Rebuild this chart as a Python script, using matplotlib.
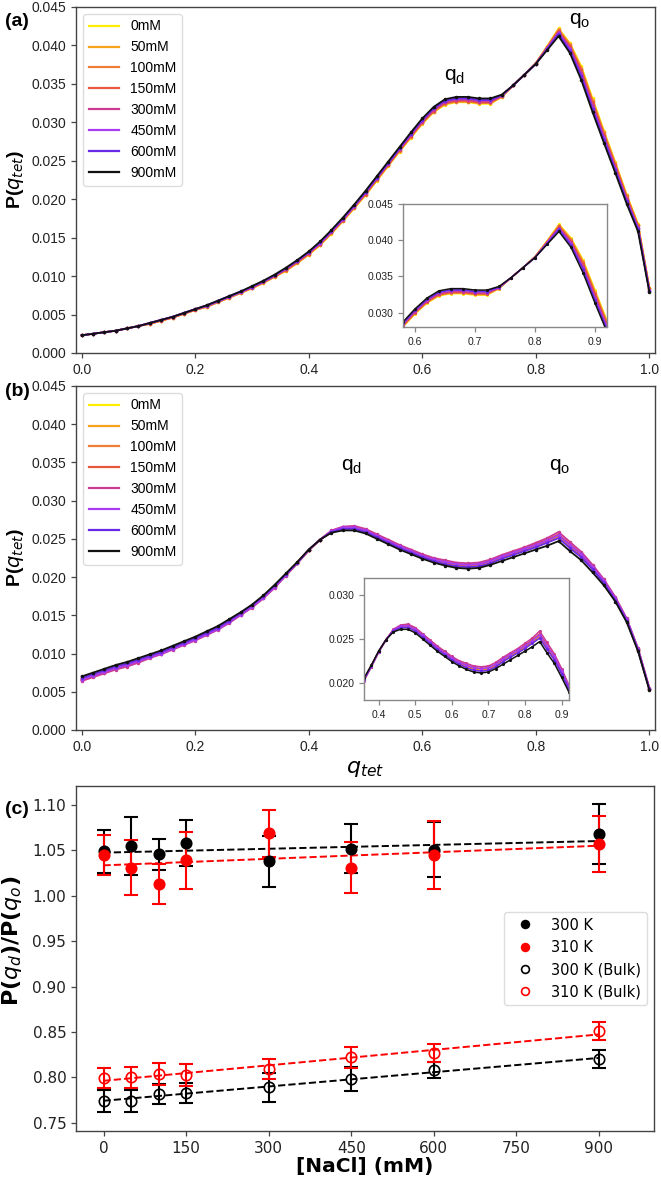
import numpy as np
import matplotlib
matplotlib.use('Agg')
import matplotlib.pyplot as plt

plt.rcParams['font.family'] = ['Liberation Sans', 'DejaVu Sans']

# q_tet grid used for the histograms
q_tet = np.round(np.linspace(0.0, 1.0, 51), 2)

conc_labels = ['0mM', '50mM', '100mM', '150mM', '300mM', '450mM', '600mM', '900mM']
line_colors = ['#ffee00', '#f7a31c', '#ef7d35', '#e8573a', '#cc3a92', '#a93cf0', '#6a28e8', '#111111']

# ---- panel (a): P(q_tet) ----
a_0mM = [0.0023, 0.0025, 0.0027, 0.0029, 0.0032, 0.0035, 0.0038, 0.0042, 0.0046, 0.0051,
         0.0056, 0.0060, 0.0066, 0.0072, 0.0078, 0.0084, 0.0091, 0.0099, 0.0107, 0.0117,
         0.0128, 0.0140, 0.0155, 0.0171, 0.0188, 0.0205, 0.0224, 0.0243, 0.0262, 0.0280,
         0.0298, 0.0313, 0.0323, 0.0326, 0.0326, 0.0324, 0.0324, 0.0333, 0.0348, 0.0362,
         0.0377, 0.0399, 0.0422, 0.0403, 0.0373, 0.0331, 0.0289, 0.0248, 0.0206, 0.0168,
         0.0085]
a_50mM = [0.0023, 0.0025, 0.0027, 0.0029, 0.0032, 0.0035, 0.0038, 0.0042, 0.0046, 0.0051,
          0.0056, 0.0060, 0.0066, 0.0072, 0.0078, 0.0084, 0.0091, 0.0099, 0.0107, 0.0117,
          0.0128, 0.0141, 0.0156, 0.0172, 0.0189, 0.0206, 0.0225, 0.0244, 0.0263, 0.0281,
          0.0299, 0.0314, 0.0324, 0.0327, 0.0327, 0.0325, 0.0325, 0.0333, 0.0348, 0.0362,
          0.0377, 0.0398, 0.0421, 0.0402, 0.0371, 0.0329, 0.0287, 0.0247, 0.0205, 0.0167,
          0.0084]
a_100mM = [0.0023, 0.0025, 0.0027, 0.0029, 0.0032, 0.0035, 0.0038, 0.0042, 0.0046, 0.0051,
           0.0056, 0.0060, 0.0066, 0.0072, 0.0078, 0.0085, 0.0092, 0.0100, 0.0108, 0.0118,
           0.0129, 0.0141, 0.0156, 0.0172, 0.0189, 0.0206, 0.0225, 0.0244, 0.0263, 0.0281,
           0.0299, 0.0314, 0.0324, 0.0327, 0.0327, 0.0325, 0.0325, 0.0334, 0.0348, 0.0362,
           0.0377, 0.0398, 0.0420, 0.0400, 0.0369, 0.0327, 0.0286, 0.0245, 0.0204, 0.0166,
           0.0084]
a_150mM = [0.0023, 0.0025, 0.0027, 0.0029, 0.0032, 0.0035, 0.0038, 0.0042, 0.0046, 0.0051,
           0.0056, 0.0061, 0.0067, 0.0073, 0.0079, 0.0085, 0.0092, 0.0100, 0.0108, 0.0118,
           0.0129, 0.0142, 0.0157, 0.0173, 0.0190, 0.0207, 0.0226, 0.0245, 0.0264, 0.0282,
           0.0300, 0.0315, 0.0325, 0.0328, 0.0328, 0.0326, 0.0326, 0.0334, 0.0348, 0.0362,
           0.0377, 0.0397, 0.0419, 0.0399, 0.0368, 0.0326, 0.0284, 0.0244, 0.0202, 0.0165,
           0.0083]
a_300mM = [0.0023, 0.0025, 0.0027, 0.0029, 0.0032, 0.0035, 0.0039, 0.0043, 0.0047, 0.0052,
           0.0057, 0.0061, 0.0067, 0.0073, 0.0079, 0.0085, 0.0092, 0.0100, 0.0109, 0.0119,
           0.0130, 0.0142, 0.0157, 0.0173, 0.0190, 0.0208, 0.0227, 0.0246, 0.0265, 0.0283,
           0.0301, 0.0316, 0.0326, 0.0329, 0.0329, 0.0327, 0.0327, 0.0334, 0.0348, 0.0362,
           0.0376, 0.0397, 0.0417, 0.0397, 0.0364, 0.0322, 0.0281, 0.0241, 0.0200, 0.0163,
           0.0082]
a_450mM = [0.0023, 0.0025, 0.0027, 0.0029, 0.0032, 0.0035, 0.0039, 0.0043, 0.0047, 0.0052,
           0.0057, 0.0061, 0.0067, 0.0073, 0.0079, 0.0086, 0.0093, 0.0101, 0.0110, 0.0120,
           0.0131, 0.0143, 0.0158, 0.0174, 0.0191, 0.0209, 0.0228, 0.0247, 0.0266, 0.0285,
           0.0303, 0.0318, 0.0328, 0.0331, 0.0331, 0.0329, 0.0329, 0.0335, 0.0348, 0.0362,
           0.0376, 0.0396, 0.0416, 0.0395, 0.0361, 0.0319, 0.0279, 0.0239, 0.0198, 0.0162,
           0.0081]
a_600mM = [0.0023, 0.0025, 0.0027, 0.0029, 0.0032, 0.0035, 0.0039, 0.0043, 0.0047, 0.0052,
           0.0057, 0.0062, 0.0068, 0.0074, 0.0080, 0.0086, 0.0093, 0.0101, 0.0110, 0.0120,
           0.0131, 0.0144, 0.0159, 0.0175, 0.0192, 0.0209, 0.0228, 0.0247, 0.0266, 0.0285,
           0.0303, 0.0318, 0.0328, 0.0331, 0.0331, 0.0329, 0.0329, 0.0335, 0.0348, 0.0362,
           0.0376, 0.0395, 0.0415, 0.0393, 0.0360, 0.0317, 0.0277, 0.0238, 0.0197, 0.0161,
           0.0081]
a_900mM = [0.0023, 0.0025, 0.0027, 0.0029, 0.0032, 0.0035, 0.0039, 0.0043, 0.0047, 0.0052,
           0.0057, 0.0062, 0.0068, 0.0074, 0.0080, 0.0087, 0.0094, 0.0102, 0.0111, 0.0121,
           0.0132, 0.0145, 0.0160, 0.0176, 0.0193, 0.0211, 0.0230, 0.0249, 0.0268, 0.0287,
           0.0305, 0.0320, 0.0330, 0.0333, 0.0333, 0.0331, 0.0331, 0.0336, 0.0348, 0.0362,
           0.0376, 0.0394, 0.0412, 0.0390, 0.0355, 0.0313, 0.0273, 0.0234, 0.0194, 0.0158,
           0.0079]

# ---- panel (b): P(q_tet) ----
b_0mM = [0.0067, 0.0072, 0.0077, 0.0082, 0.0086, 0.0091, 0.0096, 0.0101, 0.0107, 0.0113,
         0.0119, 0.0126, 0.0133, 0.0142, 0.0152, 0.0162, 0.0174, 0.0188, 0.0203, 0.0219,
         0.0235, 0.0249, 0.0260, 0.0264, 0.0264, 0.0260, 0.0253, 0.0246, 0.0239, 0.0233,
         0.0227, 0.0222, 0.0219, 0.0216, 0.0215, 0.0216, 0.0220, 0.0225, 0.0230, 0.0235,
         0.0241, 0.0246, 0.0253, 0.0240, 0.0228, 0.0211, 0.0193, 0.0171, 0.0144, 0.0105,
         0.0054]
b_50mM = [0.0067, 0.0072, 0.0077, 0.0082, 0.0086, 0.0091, 0.0097, 0.0102, 0.0108, 0.0114,
          0.0120, 0.0127, 0.0134, 0.0143, 0.0152, 0.0162, 0.0174, 0.0188, 0.0204, 0.0219,
          0.0236, 0.0249, 0.0259, 0.0263, 0.0264, 0.0260, 0.0253, 0.0246, 0.0239, 0.0233,
          0.0227, 0.0222, 0.0218, 0.0215, 0.0214, 0.0215, 0.0219, 0.0225, 0.0230, 0.0235,
          0.0240, 0.0246, 0.0252, 0.0239, 0.0227, 0.0211, 0.0193, 0.0171, 0.0143, 0.0105,
          0.0053]
b_100mM = [0.0066, 0.0071, 0.0076, 0.0081, 0.0085, 0.0090, 0.0096, 0.0101, 0.0107, 0.0113,
           0.0119, 0.0126, 0.0133, 0.0142, 0.0152, 0.0162, 0.0174, 0.0188, 0.0203, 0.0219,
           0.0235, 0.0249, 0.0260, 0.0264, 0.0265, 0.0261, 0.0254, 0.0247, 0.0240, 0.0234,
           0.0228, 0.0223, 0.0219, 0.0216, 0.0215, 0.0216, 0.0220, 0.0226, 0.0231, 0.0236,
           0.0241, 0.0247, 0.0254, 0.0241, 0.0229, 0.0212, 0.0194, 0.0172, 0.0144, 0.0105,
           0.0054]
b_150mM = [0.0065, 0.0070, 0.0075, 0.0080, 0.0084, 0.0089, 0.0095, 0.0100, 0.0106, 0.0112,
           0.0118, 0.0125, 0.0132, 0.0141, 0.0151, 0.0161, 0.0173, 0.0187, 0.0203, 0.0218,
           0.0235, 0.0249, 0.0260, 0.0265, 0.0266, 0.0262, 0.0255, 0.0248, 0.0241, 0.0235,
           0.0229, 0.0224, 0.0220, 0.0217, 0.0216, 0.0217, 0.0221, 0.0227, 0.0232, 0.0237,
           0.0243, 0.0249, 0.0256, 0.0243, 0.0230, 0.0214, 0.0195, 0.0173, 0.0145, 0.0106,
           0.0054]
b_300mM = [0.0064, 0.0069, 0.0074, 0.0079, 0.0083, 0.0088, 0.0094, 0.0099, 0.0105, 0.0111,
           0.0117, 0.0124, 0.0131, 0.0140, 0.0150, 0.0160, 0.0172, 0.0186, 0.0202, 0.0218,
           0.0235, 0.0249, 0.0261, 0.0266, 0.0267, 0.0263, 0.0256, 0.0249, 0.0242, 0.0236,
           0.0230, 0.0225, 0.0222, 0.0219, 0.0218, 0.0219, 0.0223, 0.0229, 0.0234, 0.0239,
           0.0245, 0.0251, 0.0259, 0.0246, 0.0233, 0.0216, 0.0197, 0.0174, 0.0146, 0.0107,
           0.0055]
b_450mM = [0.0066, 0.0071, 0.0076, 0.0081, 0.0085, 0.0090, 0.0095, 0.0100, 0.0106, 0.0112,
           0.0118, 0.0125, 0.0132, 0.0141, 0.0151, 0.0161, 0.0173, 0.0187, 0.0203, 0.0219,
           0.0235, 0.0249, 0.0260, 0.0265, 0.0265, 0.0261, 0.0254, 0.0247, 0.0240, 0.0234,
           0.0228, 0.0223, 0.0220, 0.0217, 0.0216, 0.0217, 0.0221, 0.0227, 0.0232, 0.0237,
           0.0242, 0.0248, 0.0255, 0.0242, 0.0230, 0.0213, 0.0195, 0.0172, 0.0145, 0.0106,
           0.0054]
b_600mM = [0.0068, 0.0073, 0.0078, 0.0083, 0.0087, 0.0092, 0.0097, 0.0102, 0.0108, 0.0114,
           0.0120, 0.0127, 0.0134, 0.0143, 0.0153, 0.0163, 0.0175, 0.0189, 0.0204, 0.0219,
           0.0236, 0.0249, 0.0259, 0.0263, 0.0263, 0.0259, 0.0252, 0.0245, 0.0238, 0.0232,
           0.0226, 0.0221, 0.0217, 0.0214, 0.0213, 0.0214, 0.0218, 0.0224, 0.0229, 0.0234,
           0.0239, 0.0245, 0.0251, 0.0238, 0.0226, 0.0210, 0.0192, 0.0170, 0.0143, 0.0104,
           0.0053]
b_900mM = [0.0070, 0.0075, 0.0080, 0.0085, 0.0089, 0.0094, 0.0099, 0.0104, 0.0110, 0.0116,
           0.0122, 0.0129, 0.0136, 0.0145, 0.0154, 0.0164, 0.0176, 0.0190, 0.0205, 0.0220,
           0.0236, 0.0249, 0.0258, 0.0261, 0.0261, 0.0257, 0.0250, 0.0243, 0.0236, 0.0230,
           0.0224, 0.0219, 0.0215, 0.0212, 0.0211, 0.0212, 0.0216, 0.0221, 0.0226, 0.0231,
           0.0236, 0.0241, 0.0247, 0.0234, 0.0222, 0.0206, 0.0189, 0.0168, 0.0141, 0.0103,
           0.0052]

# ---- panel (c): P(q_d)/P(q_o) vs [NaCl] ----
nacl = [0, 50, 100, 150, 300, 450, 600, 900]
ratio_300 = [1.049, 1.055, 1.046, 1.058, 1.038, 1.052, 1.051, 1.068]
err_300 = [0.024, 0.032, 0.017, 0.025, 0.028, 0.027, 0.030, 0.033]
ratio_310 = [1.045, 1.031, 1.013, 1.039, 1.069, 1.031, 1.045, 1.057]
err_310 = [0.022, 0.030, 0.022, 0.031, 0.026, 0.028, 0.037, 0.031]
bulk_300 = [0.774, 0.774, 0.782, 0.783, 0.789, 0.798, 0.808, 0.820]
bulk_err_300 = [0.012, 0.012, 0.011, 0.011, 0.016, 0.013, 0.009, 0.010]
bulk_310 = [0.799, 0.800, 0.804, 0.803, 0.809, 0.822, 0.827, 0.851]
bulk_err_310 = [0.011, 0.012, 0.012, 0.012, 0.011, 0.012, 0.010, 0.010]

panel_a = [a_0mM, a_50mM, a_100mM, a_150mM, a_300mM, a_450mM, a_600mM, a_900mM]
panel_b = [b_0mM, b_50mM, b_100mM, b_150mM, b_300mM, b_450mM, b_600mM, b_900mM]

spine_col = '#444444'

fig = plt.figure(figsize=(6.61, 11.77), dpi=100)
ax_a = fig.add_axes([0.115, 0.7001, 0.876, 0.294])
ax_b = fig.add_axes([0.115, 0.3798, 0.876, 0.2923])
ax_c = fig.add_axes([0.115, 0.0391, 0.8744, 0.2931])
ins_a = fig.add_axes([0.6097, 0.7222, 0.3086, 0.1045])
ins_b = fig.add_axes([0.5507, 0.4053, 0.3100, 0.1037])


def draw_profiles(ax, series, lw=1.3, ms=3.0, labels=True):
    for y, lab, col in zip(series, conc_labels, line_colors):
        ax.plot(q_tet, y, '-', color=col, lw=lw, label=lab if labels else None)
        ax.plot(q_tet, y, '.', color=col, ms=ms)


def style(ax, lsize, scol=spine_col):
    for s in ax.spines.values():
        s.set_color(scol)
        s.set_linewidth(1.0)
    ax.tick_params(labelsize=lsize, colors='#222222', length=3.5, width=0.9)
    ax.tick_params(axis='both', color=scol)


for ax, data in [(ax_a, panel_a), (ax_b, panel_b)]:
    draw_profiles(ax, data)
    ax.set_xlim(-0.01, 1.01)
    ax.set_ylim(0, 0.045)
    ax.set_xticks([0.0, 0.2, 0.4, 0.6, 0.8, 1.0])
    ax.set_yticks(np.arange(0, 0.0451, 0.005))
    ax.yaxis.set_major_formatter(matplotlib.ticker.FormatStrFormatter('%.3f'))
    ax.xaxis.set_major_formatter(matplotlib.ticker.FormatStrFormatter('%.1f'))
    style(ax, 10)
    ax.set_ylabel(r'P($q_{tet}$)', fontsize=14, fontweight='bold', labelpad=4)
    leg = ax.legend(loc='upper left', fontsize=10, handlelength=2.2, framealpha=1.0,
                    edgecolor='#dddddd')
    for h in leg.get_lines():
        h.set_linewidth(1.6)

ax_b.set_xlabel(r'$q_{tet}$', fontsize=16, labelpad=3)

# annotations of the two peaks
ax_a.text(0.657, 0.0359, r'$\mathregular{q_d}$', fontsize=15, ha='center', va='center')
ax_a.text(0.878, 0.0432, r'$\mathregular{q_o}$', fontsize=15, ha='center', va='center')
ax_b.text(0.476, 0.0344, r'$\mathregular{q_d}$', fontsize=15, ha='center', va='center')
ax_b.text(0.842, 0.0344, r'$\mathregular{q_o}$', fontsize=15, ha='center', va='center')

# insets
draw_profiles(ins_a, panel_a, lw=1.1, ms=2.5, labels=False)
ins_a.set_xlim(0.58, 0.92)
ins_a.set_ylim(0.028, 0.045)
ins_a.set_xticks([0.6, 0.7, 0.8, 0.9])
ins_a.set_yticks([0.030, 0.035, 0.040, 0.045])
ins_a.yaxis.set_major_formatter(matplotlib.ticker.FormatStrFormatter('%.3f'))
style(ins_a, 7.5, '#888888')

draw_profiles(ins_b, panel_b, lw=1.1, ms=2.5, labels=False)
ins_b.set_xlim(0.36, 0.92)
ins_b.set_ylim(0.018, 0.032)
ins_b.set_xticks([0.4, 0.5, 0.6, 0.7, 0.8, 0.9])
ins_b.set_yticks([0.020, 0.025, 0.030])
ins_b.yaxis.set_major_formatter(matplotlib.ticker.FormatStrFormatter('%.3f'))
style(ins_b, 7.5, '#888888')

# panel (c)
fit_x = np.array([0, 900])
for y, e, col, filled, lab in [(ratio_300, err_300, 'black', True, '300 K'),
                               (ratio_310, err_310, 'red', True, '310 K'),
                               (bulk_300, bulk_err_300, 'black', False, '300 K (Bulk)'),
                               (bulk_310, bulk_err_310, 'red', False, '310 K (Bulk)')]:
    k, b = np.polyfit(nacl, y, 1)
    ax_c.plot(fit_x, k * fit_x + b, '--', color=col, lw=1.4, zorder=2)
    ax_c.errorbar(nacl, y, yerr=e, fmt='none', ecolor=col, elinewidth=1.5,
                  capsize=5, capthick=1.5, zorder=3)
    ax_c.plot(nacl, y, 'o', ms=7.5, color=col, mfc=col if filled else 'none',
              mec=col, mew=1.2, label=lab, zorder=4)

ax_c.set_xlim(-50, 1000)
ax_c.set_ylim(0.741, 1.121)
ax_c.set_xticks([0, 150, 300, 450, 600, 750, 900])
ax_c.set_yticks(np.arange(0.75, 1.1001, 0.05))
ax_c.yaxis.set_major_formatter(matplotlib.ticker.FormatStrFormatter('%.2f'))
style(ax_c, 11)
for lab in ax_c.get_xticklabels() + ax_c.get_yticklabels():
    lab.set_family('DejaVu Sans')
ax_c.set_xlabel('[NaCl] (mM)', fontsize=14.5, fontweight='bold', family='DejaVu Sans', labelpad=1)
ax_c.set_ylabel(r'P($q_d$)/P($q_o$)', fontsize=16, fontweight='bold', family='DejaVu Sans', labelpad=5)
ax_c.yaxis.set_label_coords(-0.09, 0.55)
ax_c.legend(loc='center right', markerscale=0.75, framealpha=1.0,
            edgecolor='#dddddd', prop={'family': 'DejaVu Sans', 'size': 10.5})

# panel labels
fig.text(0.008, 1 - 22 / 1177, '(a)', fontsize=14, fontweight='bold', va='center')
fig.text(0.008, 1 - 392 / 1177, '(b)', fontsize=14, fontweight='bold', va='center')
fig.text(0.008, 1 - 810 / 1177, '(c)', fontsize=14, fontweight='bold', va='center')

fig.savefig('out.png', dpi=100)
